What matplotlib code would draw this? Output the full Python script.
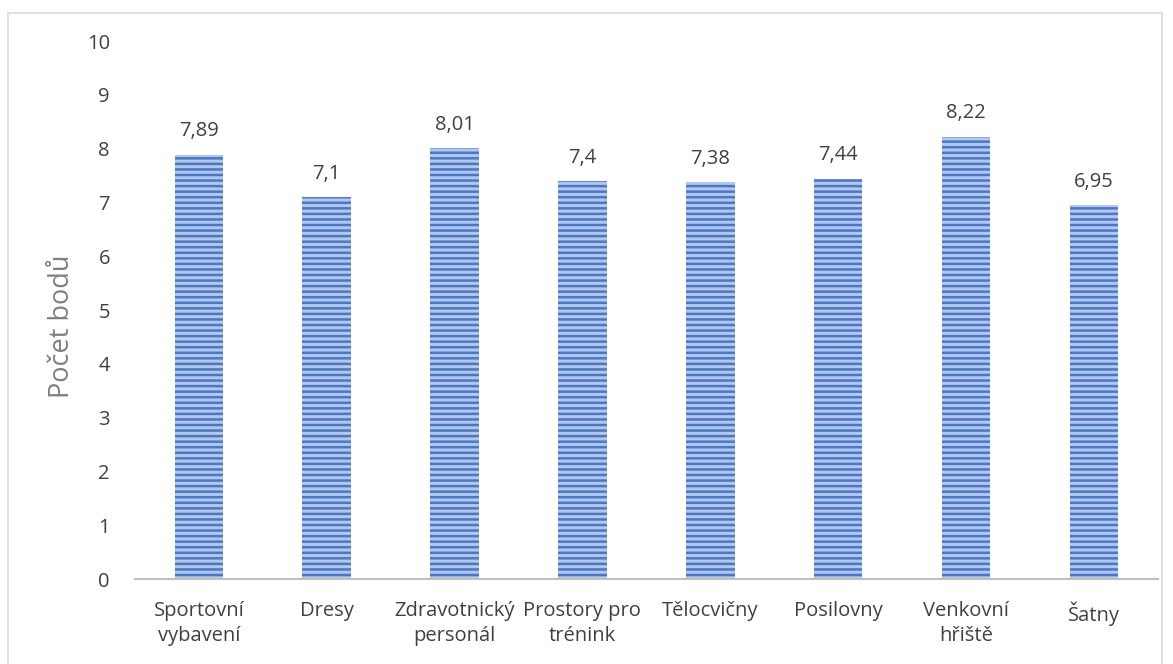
import matplotlib.pyplot as plt
import matplotlib.patches as patches

# data
categories = ["Sportovní\nvybavení", "Dresy", "Zdravotnický\npersonál", "Prostory pro\ntrénink",
              "Tělocvičny", "Posilovny", "Venkovní\nhřiště", "Šatny"]
values = [7.89, 7.1, 8.01, 7.4, 7.38, 7.44, 8.22, 6.95]
value_labels = ["7,89", "7,1", "8,01", "7,4", "7,38", "7,44", "8,22", "6,95"]

plt.rcParams['font.family'] = ['Open Sans', 'DejaVu Sans']
plt.rcParams['hatch.linewidth'] = 1.8

fig = plt.figure(figsize=(11.73, 6.64), dpi=100)
ax = fig.add_axes([0.115, 0.128, 0.872, 0.81])

x = range(len(categories))
ax.bar(x, values, width=0.38, color='#B4C7EA', hatch='---', edgecolor='#4A78C8', linewidth=0)

for i, v in enumerate(values):
    ax.text(i, v + 0.25, value_labels[i], ha='center', va='bottom', fontsize=14.5, color='#404040')

ax.set_xlim(-0.5, len(categories) - 0.5)
ax.set_ylim(0, 10)
ax.set_yticks(range(0, 11))
ax.set_xticks(list(x))
ax.set_xticklabels(categories, fontsize=14.5, color='#404040', linespacing=1.3)
ax.tick_params(axis='y', labelsize=14.5, labelcolor='#404040', length=0, pad=18)
ax.tick_params(axis='x', length=0, pad=16)
for s in ['top', 'right', 'left']:
    ax.spines[s].set_visible(False)
ax.spines['bottom'].set_color('#BFBFBF')
ax.spines['bottom'].set_linewidth(1.5)
ax.set_ylabel("Počet bodů", fontsize=19.5, color='#808080')
ax.yaxis.set_label_coords(-0.058, 0.47)

# light frame around the chart area
fig.patches.append(patches.Rectangle((8 / 1173, -0.05), 1154 / 1173, 1 - 13 / 664 + 0.05,
                                     transform=fig.transFigure, fill=False,
                                     edgecolor='#D9D9D9', linewidth=1.2))

plt.savefig('out.png', dpi=100)
